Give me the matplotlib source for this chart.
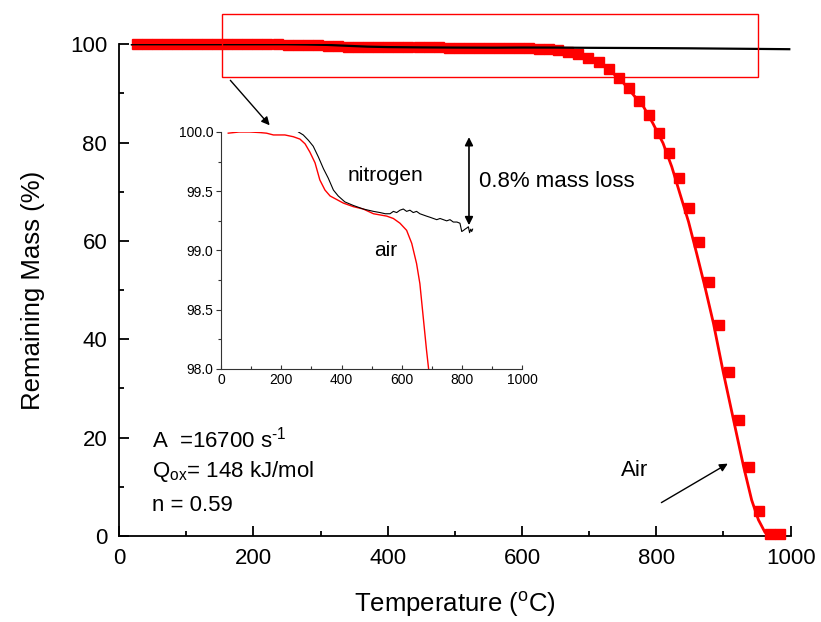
import matplotlib
matplotlib.use("Agg")
import matplotlib.pyplot as plt
from matplotlib.patches import Rectangle

plt.rcParams["font.family"] = ["Liberation Sans", "DejaVu Sans"]
plt.rcParams["mathtext.default"] = "regular"

# main plot: air TGA (squares), fit (line), nitrogen (black)
air_T = [26, 41, 56, 71, 86, 101, 116, 131, 146, 161, 176, 191, 206, 221, 236,
         251, 266, 281, 296, 311, 326, 341, 356, 371, 386, 401, 416, 431, 446,
         461, 476, 491, 506, 521, 536, 551, 566, 581, 596, 611, 626, 640, 654,
         669, 684, 699, 714, 729, 744, 759, 774, 789, 804, 819, 834, 849, 864,
         879, 893, 908, 923, 938, 953, 969, 984]
air_M = [99.99, 100.0, 100.0, 100.0, 100.0, 100.0, 99.99, 99.99, 99.99, 99.98,
         99.97, 99.97, 99.97, 99.97, 99.96, 99.95, 99.93, 99.89, 99.83, 99.74,
         99.61, 99.53, 99.48, 99.45, 99.43, 99.41, 99.39, 99.38, 99.37, 99.36,
         99.35, 99.33, 99.31, 99.30, 99.29, 99.29, 99.27, 99.25, 99.22, 99.19,
         99.10, 99.0, 98.8, 98.4, 98.0, 97.15, 96.3, 94.9, 93.2, 91.05, 88.5,
         85.6, 82.0, 77.8, 72.9, 66.8, 59.8, 51.6, 42.9, 33.4, 23.6, 14.0, 5.1,
         0.4, 0.4]

fit_T = [20, 200, 400, 500, 560, 600, 630, 650, 670, 690, 710, 730, 750, 766,
         781, 795, 810, 823, 835, 848, 860, 872, 885, 900, 915, 930, 942, 952,
         962, 969, 985]
fit_M = [100.0, 100.0, 99.9, 99.8, 99.65, 99.45, 99.2, 98.85, 98.3, 97.6, 96.6,
         94.8, 92.3, 89.7, 87.3, 83.9, 79.9, 75.1, 69.7, 63.9, 57.5, 50.9, 43.3,
         33.1, 23.6, 14.1, 7.3, 3.3, 0.7, 0.2, 0.2]

n2_T = [19, 250, 280, 310, 340, 370, 400, 450, 500, 560, 600, 650, 700, 750,
        800, 850, 900, 950, 998]
n2_M = [100.0, 100.0, 99.95, 99.87, 99.69, 99.52, 99.43, 99.37, 99.33, 99.31,
        99.34, 99.33, 99.28, 99.25, 99.22, 99.18, 99.12, 99.06, 99.0]

# inset: zoom on the first 1 % of mass loss
in_air_T = [24, 60, 96, 130, 151, 174, 212, 240, 262, 279, 295, 312, 328, 345,
            362, 384, 406, 439, 472, 506, 550, 572, 594, 616, 633, 649, 660,
            671, 682, 689, 700]
in_air_M = [99.99, 100.0, 100.0, 99.995, 99.99, 99.975, 99.975, 99.96, 99.94,
            99.90, 99.83, 99.74, 99.595, 99.51, 99.46, 99.43, 99.40, 99.37,
            99.35, 99.31, 99.29, 99.27, 99.23, 99.17, 99.06, 98.89, 98.72,
            98.44, 98.16, 98.0, 97.7]

in_n2_T = [257, 273, 290, 306, 323, 340, 356, 373, 389, 411, 439, 472, 506, 528,
           545, 561, 572, 583, 594, 605, 616, 627, 638, 649, 660, 671, 682, 694,
           705, 716, 727, 738, 749, 760, 771, 783, 793, 799, 805, 810, 816, 821,
           825, 829, 832, 835]
in_n2_M = [100.0, 99.975, 99.93, 99.88, 99.79, 99.69, 99.61, 99.51, 99.46,
           99.41, 99.38, 99.35, 99.33, 99.32, 99.31, 99.31, 99.33, 99.32, 99.34,
           99.35, 99.33, 99.34, 99.32, 99.33, 99.31, 99.30, 99.29, 99.28, 99.27,
           99.26, 99.27, 99.26, 99.25, 99.26, 99.24, 99.24, 99.23, 99.16, 99.17,
           99.18, 99.19, 99.20, 99.15, 99.18, 99.16, 99.18]

fig = plt.figure(figsize=(8.21, 6.22), dpi=100)
ax = fig.add_axes([0.145, 0.1383, 0.818, 0.7905])

ax.plot(fit_T, fit_M, color="red", lw=2.0, zorder=2)
ax.plot(air_T, air_M, ls="none", marker="s", ms=7, color="red", mec="red",
        clip_on=False, zorder=3)
ax.plot(n2_T, n2_M, color="black", lw=1.6, zorder=4)

ax.set_xlim(0, 1000)
ax.set_ylim(0, 100)
ax.set_xticks(range(0, 1001, 200))
ax.set_xticks(range(100, 1000, 200), minor=True)
ax.set_yticks(range(0, 101, 20))
ax.set_yticks(range(10, 100, 20), minor=True)
for s in ["top", "right"]:
    ax.spines[s].set_visible(False)
for s in ["left", "bottom"]:
    ax.spines[s].set_linewidth(1.3)
ax.tick_params(which="major", direction="in", length=7.2, width=1.3,
               labelsize=16, pad=8.5)
ax.tick_params(which="minor", direction="in", length=3.6, width=1.3)

ax.set_xlabel("Temperature ($^{o}$C)", fontsize=18.5, va="center")
ax.xaxis.set_label_coords(0.5, -0.14)
ax.set_ylabel("Remaining Mass (%)", fontsize=18.5, va="center")
ax.yaxis.set_label_coords(-0.1286, 0.5)

# zoom box and arrow to inset
ax.add_patch(Rectangle((153, 93.3), 799, 12.9, fill=False, ec="red", lw=1.0,
                       clip_on=False, zorder=5))
ax.annotate("", xy=(227, 83.1), xytext=(163, 93.1),
            arrowprops=dict(arrowstyle="-|>", color="black", lw=1.0,
                            mutation_scale=12), annotation_clip=False)

ax.text(768, 13.4, "Air", fontsize=16, ha="center", va="center")
ax.annotate("", xy=(910, 15.0), xytext=(804, 6.5),
            arrowprops=dict(arrowstyle="-|>", color="black", lw=1.0,
                            mutation_scale=12))

ax.text(48.7, 18.0, "A  =16700 s$^{\u20101}$", fontsize=16, va="baseline")
ax.text(48.7, 11.9, "Q$_{ox}$= 148 kJ/mol", fontsize=16, va="baseline")
ax.text(48.7, 5.1, "n = 0.59", fontsize=16, va="baseline")

# inset
ins = fig.add_axes([0.2692, 0.4068, 0.367, 0.381])
ins.set_facecolor("none")
ins.plot(in_air_T, in_air_M, color="red", lw=1.0)
ins.plot(in_n2_T, in_n2_M, color="black", lw=0.8)
ins.set_xlim(0, 1000)
ins.set_ylim(98.0, 100.0)
ins.set_xticks(range(0, 1001, 200))
ins.set_xticks(range(100, 1000, 200), minor=True)
ins.set_yticks([98.0, 98.5, 99.0, 99.5, 100.0])
ins.set_yticks([98.25, 98.75, 99.25, 99.75], minor=True)
ins.set_yticklabels(["98.0", "98.5", "99.0", "99.5", "100.0"])
for s in ["top", "right"]:
    ins.spines[s].set_visible(False)
for s in ["left", "bottom"]:
    ins.spines[s].set_linewidth(0.8)
    ins.spines[s].set_color("#333333")
ins.tick_params(axis="y", which="major", direction="out", length=3.6,
                width=0.8, labelsize=10, pad=2, color="#333333")
ins.tick_params(axis="y", which="minor", direction="out", length=2.0,
                width=0.8, color="#333333")
ins.tick_params(axis="x", which="major", direction="in", length=3.0,
                width=0.8, labelsize=10, pad=3, color="#333333")
ins.tick_params(axis="x", which="minor", direction="in", length=2.0,
                width=0.8, color="#333333")

ins.text(545, 99.63, "nitrogen", fontsize=15, ha="center", va="center")
ins.text(548, 99.0, "air", fontsize=15, ha="center", va="center")
ins.annotate("", xy=(823, 99.19), xytext=(823, 99.98),
             arrowprops=dict(arrowstyle="<|-|>", color="black", lw=1.2,
                             mutation_scale=12), annotation_clip=False)
ax.text(0.536, 0.72, "0.8% mass loss", fontsize=16, va="center",
        transform=ax.transAxes)

fig.savefig("out.png", dpi=100)
